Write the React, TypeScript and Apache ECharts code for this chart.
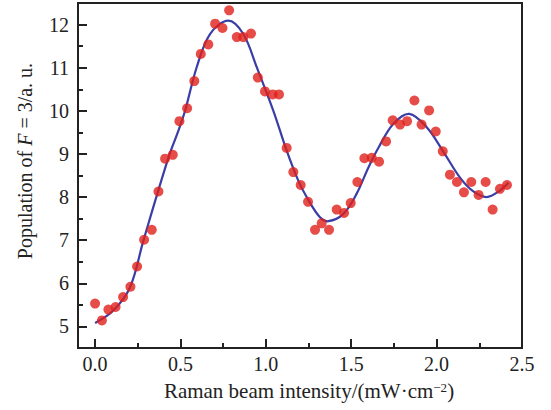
import React, { useEffect, useRef } from "react";
import * as echarts from "echarts";

const pointX = [0.0, 0.04, 0.078, 0.12, 0.164, 0.207, 0.246, 0.287, 0.332, 0.371, 0.41, 0.455, 0.494, 0.539, 0.581, 0.619, 0.663, 0.703, 0.746, 0.785, 0.83, 0.868, 0.913, 0.953, 0.995, 1.04, 1.077, 1.122, 1.161, 1.204, 1.247, 1.288, 1.327, 1.37, 1.415, 1.458, 1.497, 1.536, 1.577, 1.62, 1.663, 1.704, 1.743, 1.786, 1.827, 1.87, 1.912, 1.956, 1.995, 2.036, 2.078, 2.119, 2.16, 2.203, 2.246, 2.287, 2.328, 2.371, 2.412];
const pointY = [5.53, 5.14, 5.39, 5.45, 5.68, 5.92, 6.39, 7.01, 7.24, 8.13, 8.89, 8.98, 9.76, 10.06, 10.69, 11.32, 11.54, 12.02, 11.92, 12.33, 11.71, 11.71, 11.79, 10.77, 10.45, 10.38, 10.38, 9.14, 8.58, 8.28, 7.89, 7.24, 7.39, 7.24, 7.71, 7.63, 7.86, 8.35, 8.9, 8.91, 8.82, 9.29, 9.78, 9.68, 9.76, 10.24, 9.68, 10.01, 9.52, 9.06, 8.52, 8.35, 8.11, 8.35, 8.05, 8.35, 7.71, 8.19, 8.28];

const fitX = [0, 0.107, 0.205, 0.283, 0.43, 0.488, 0.527, 0.595, 0.673, 0.78, 0.868, 0.947, 1.044, 1.12, 1.19, 1.239, 1.317, 1.366, 1.454, 1.532, 1.6, 1.66, 1.747, 1.84, 1.942, 2.04, 2.137, 2.215, 2.293, 2.371, 2.42];
const fitY = [5.08, 5.37, 5.91, 6.99, 8.92, 9.54, 10.0, 11.01, 11.78, 12.09, 11.78, 11.01, 10.0, 9.1, 8.38, 8.0, 7.53, 7.44, 7.61, 8.08, 8.68, 9.15, 9.7, 9.93, 9.62, 9.05, 8.45, 8.13, 8.0, 8.15, 8.33];

const xMajor = [0, 0.5, 1.0, 1.5, 2.0, 2.5];
const xMinor = [0.25, 0.75, 1.25, 1.75, 2.25];
const yMajor = [5, 6, 7, 8, 9, 10, 11, 12];
const yMinor = [5.5, 6.5, 7.5, 8.5, 9.5, 10.5, 11.5];
const xTitle = "Raman beam intensity/(mW·cm{sup|−2})";
const yTitle = "Population of {i|F} = 3/a. u.";

const FAMILY = "Liberation Serif";
const INK = "#222";
const SIZE = 20;

function buildOption(graphics: any[]) {
  const tick = (vals: number[], len: number) => ({ show: true, inside: true, length: len, lineStyle: { color: INK, width: 2 }, customValues: vals });
  const fitData = fitX.map((x, i) => [x, fitY[i]]);
  return {
    animation: false,
    grid: { left: 78, right: 29, top: 3, bottom: 62, show: true, borderColor: INK, borderWidth: 2 },
    xAxis: [
      { type: "value", min: -0.1, max: 2.5, position: "bottom", splitLine: { show: false },
        axisLine: { show: false, onZero: false }, axisTick: tick(xMajor, 9), axisLabel: { show: false } },
      { type: "value", min: -0.1, max: 2.5, position: "bottom", splitLine: { show: false },
        axisLine: { show: false, onZero: false }, axisTick: tick(xMinor, 5), axisLabel: { show: false } },
    ],
    yAxis: [
      { type: "value", min: 4.5, max: 12.5, position: "left", splitLine: { show: false },
        axisLine: { show: false, onZero: false }, axisTick: tick(yMajor, 9), axisLabel: { show: false } },
      { type: "value", min: 4.5, max: 12.5, position: "left", splitLine: { show: false },
        axisLine: { show: false, onZero: false }, axisTick: tick(yMinor, 5), axisLabel: { show: false } },
    ],
    graphic: graphics,
    series: [
      { type: "scatter", symbol: "circle", symbolSize: 10, itemStyle: { color: "#e0201a" },
        data: pointX.map((x, i) => [x, pointY[i]]) },
      { type: "custom", clip: true, data: fitData,
        renderItem: (params: any, api: any) => {
          if (params.dataIndex !== 0) return null;
          const pts = fitData.map((d) => api.coord(d));
          return { type: "polyline", shape: { points: pts, smooth: 0.35 },
            style: { stroke: "#3a3ea6", lineWidth: 2.2, fill: null } };
        } },
    ],
  };
}

export default function App() {
  const ref = useRef<HTMLDivElement>(null);
  useEffect(() => {
    if (!ref.current) return;
    // first pass: measure axis positions through the library's scales
    const probe = echarts.init(ref.current, undefined, { renderer: "svg" });
    probe.setOption(buildOption([]));
    const px = (v: number) => probe.convertToPixel({ xAxisIndex: 0 }, v) as number;
    const py = (v: number) => probe.convertToPixel({ yAxisIndex: 0 }, v) as number;
    const axisBottom = py(4.5);
    const axisLeft = px(-0.1);
    const graphics: any[] = [];
    xMajor.forEach((v) => {
      graphics.push({ type: "text", x: px(v), y: axisBottom + 6,
        style: { text: v.toFixed(1), fontFamily: FAMILY, fontSize: SIZE, fill: INK, align: "center", verticalAlign: "top" } });
    });
    yMajor.forEach((v) => {
      graphics.push({ type: "text", x: axisLeft - 9, y: py(v),
        style: { text: String(v), fontFamily: FAMILY, fontSize: SIZE, fill: INK, align: "right", verticalAlign: "middle" } });
    });
    graphics.push({ type: "text", x: 309, y: 391,
      style: { text: xTitle, fontFamily: FAMILY, fontSize: 21, fill: INK, align: "center", verticalAlign: "middle",
        rich: { sup: { fontFamily: FAMILY, fontSize: 13, fill: INK, verticalAlign: "top", padding: [0, 0, 8, 0] } } } });
    graphics.push({ type: "text", x: 25, y: 161, rotation: Math.PI / 2,
      style: { text: yTitle, fontFamily: FAMILY, fontSize: SIZE, fill: INK, align: "center", verticalAlign: "middle",
        rich: { i: { fontFamily: FAMILY, fontSize: SIZE, fontStyle: "italic", fill: INK } } } });
    probe.dispose();

    // second pass: fresh chart with everything in a single option
    const chart = echarts.init(ref.current, undefined, { renderer: "svg" });
    chart.setOption(buildOption(graphics));
    return () => chart.dispose();
  }, []);
  return <div ref={ref} style={{ position: "absolute", left: 0, top: 0, width: 551, height: 410 }} />;
}
